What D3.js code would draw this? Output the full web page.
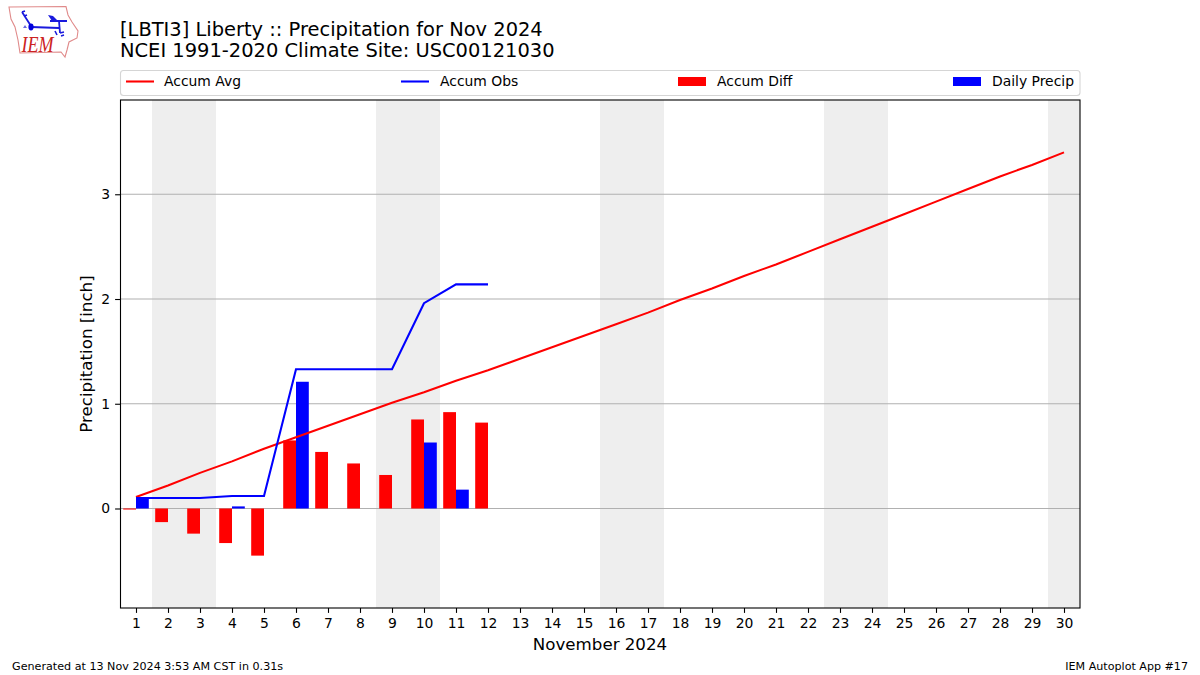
<!DOCTYPE html>
<html>
<head>
<meta charset="utf-8">
<script src="https://cdn.jsdelivr.net/npm/d3@7"></script>
<style>
body { margin: 0; background: #fff; }
svg { display: block; }
text { font-family: "DejaVu Sans", sans-serif; fill: #000; }
</style>
</head>
<body>
<svg width="1200" height="675"></svg>
<script>
var days = d3.range(1, 31);
var accumAvg = [0.11, 0.22, 0.34, 0.45, 0.57, 0.68, 0.79, 0.90, 1.01, 1.11, 1.22, 1.32, 1.43, 1.54, 1.65,
	1.76, 1.87, 1.99, 2.10, 2.22, 2.33, 2.45, 2.57, 2.69, 2.81, 2.93, 3.05, 3.17, 3.28, 3.40];
var accumObs = [0.10, 0.10, 0.10, 0.12, 0.12, 1.33, 1.33, 1.33, 1.33, 1.96, 2.14, 2.14];
var accumDiff = [-0.01, -0.13, -0.24, -0.33, -0.45, 0.65, 0.54, 0.43, 0.32, 0.85, 0.92, 0.82];
var dailyPrecip = [0.10, 0, 0, 0.02, 0, 1.21, 0, 0, 0, 0.63, 0.18, 0];
var weekends = [[1.5, 3.5], [8.5, 10.5], [15.5, 17.5], [22.5, 24.5], [29.5, 30.5]];
var yTicks = [0, 1, 2, 3];

var svg = d3.select("svg");
var left = 120, right = 1080, top_ = 100, bottom = 608;

var x = d3.scaleLinear().domain([0.5, 30.5]).range([left, right]);
var y = d3.scaleLinear().domain([-0.95, 3.9]).range([bottom, top_]);
var barW = x(1.4) - x(1);

// weekend shading
svg.selectAll(".span")
	.data(weekends)
	.enter().append("rect")
	.attr("class", "span")
	.attr("x", function(d) { return x(d[0]); })
	.attr("width", function(d) { return x(d[1]) - x(d[0]); })
	.attr("y", top_)
	.attr("height", bottom - top_)
	.attr("fill", "#eeeeee");

// grid
svg.selectAll(".grid")
	.data(yTicks)
	.enter().append("line")
	.attr("class", "grid")
	.attr("x1", left)
	.attr("x2", right)
	.attr("y1", function(d) { return y(d); })
	.attr("y2", function(d) { return y(d); })
	.attr("stroke", "#b0b0b0")
	.attr("stroke-width", 1.1);

// bars, diff sits left of the day and daily right of it
svg.selectAll(".diff")
	.data(accumDiff)
	.enter().append("rect")
	.attr("class", "diff")
	.attr("x", function(d, i) { return x(days[i]) - barW; })
	.attr("width", barW)
	.attr("y", function(d) { return y(Math.max(d, 0)); })
	.attr("height", function(d) { return Math.abs(y(d) - y(0)); })
	.attr("fill", "#ff0000");

svg.selectAll(".daily")
	.data(dailyPrecip)
	.enter().append("rect")
	.attr("class", "daily")
	.attr("x", function(d, i) { return x(days[i]); })
	.attr("width", barW)
	.attr("y", function(d) { return y(d); })
	.attr("height", function(d) { return y(0) - y(d); })
	.attr("fill", "#0000ff");

var line = d3.line()
	.x(function(d, i) { return x(days[i]); })
	.y(function(d) { return y(d); });

svg.append("path").attr("d", line(accumAvg))
	.attr("fill", "none").attr("stroke", "#ff0000").attr("stroke-width", 2.08);
svg.append("path").attr("d", line(accumObs))
	.attr("fill", "none").attr("stroke", "#0000ff").attr("stroke-width", 2.08);

// axes
var xAxis = svg.append("g")
	.attr("transform", "translate(0," + bottom + ")")
	.call(d3.axisBottom(x).tickValues(days).tickFormat(d3.format("d")).tickSizeInner(4.9).tickSizeOuter(0).tickPadding(5.5));
var yAxis = svg.append("g")
	.attr("transform", "translate(" + left + ",0)")
	.call(d3.axisLeft(y).tickValues(yTicks).tickFormat(d3.format("d")).tickSizeInner(4.9).tickSizeOuter(0).tickPadding(5));
svg.selectAll(".tick text").style("font-family", '"DejaVu Sans"').style("font-size", "13.9px").attr("fill", "#000");
svg.selectAll(".tick line").attr("stroke", "#000").attr("stroke-width", 1.1);
xAxis.select(".domain").remove();
yAxis.select(".domain").remove();

svg.append("rect")
	.attr("x", left + 0.5).attr("y", top_)
	.attr("width", right - left - 0.5).attr("height", bottom - top_)
	.attr("fill", "none").attr("stroke", "#000").attr("stroke-width", 1.1);

// axis labels
svg.append("text").attr("x", 600).attr("y", 650)
	.attr("text-anchor", "middle").style("font-size", "16.67px").text("November 2024");
svg.append("text").attr("transform", "translate(92,354) rotate(-90)")
	.attr("text-anchor", "middle").style("font-size", "16.67px").text("Precipitation [inch]");

// titles
svg.append("text").attr("x", 120).attr("y", 35.5).style("font-size", "19.46px")
	.text("[LBTI3] Liberty :: Precipitation for Nov 2024");
svg.append("text").attr("x", 120).attr("y", 57).style("font-size", "19.46px")
	.text("NCEI 1991-2020 Climate Site: USC00121030");

// legend
svg.append("rect").attr("x", 120.5).attr("y", 70.5).attr("width", 959.5).attr("height", 25)
	.attr("rx", 3).attr("fill", "#fff").attr("stroke", "#d5d5d5").attr("stroke-width", 1.1);

var legendNames = ["Accum Avg", "Accum Obs", "Accum Diff", "Daily Precip"];
var legendColors = ["#ff0000", "#0000ff", "#ff0000", "#0000ff"];
var legendX = [126, 401, 678, 953];
legendNames.forEach(function(name, i) {
	if (i < 2) {
		svg.append("line").attr("x1", legendX[i]).attr("x2", legendX[i] + 28)
			.attr("y1", 81.5).attr("y2", 81.5)
			.attr("stroke", legendColors[i]).attr("stroke-width", 2.08);
	} else {
		svg.append("rect").attr("x", legendX[i]).attr("y", 77).attr("width", 28).attr("height", 9)
			.attr("fill", legendColors[i]);
	}
	svg.append("text").attr("x", legendX[i] + (i == 0 ? 38 : 39)).attr("y", 86)
		.style("font-size", "13.9px").text(name);
});

// footer
svg.append("text").attr("x", 12).attr("y", 670).style("font-size", "11.15px")
	.text("Generated at 13 Nov 2024 3:53 AM CST in 0.31s");
svg.append("text").attr("x", 1188).attr("y", 670).attr("text-anchor", "end").style("font-size", "11.12px")
	.text("IEM Autoplot App #17");

// IEM logo
var logo = svg.append("g");
logo.append("path")
	.attr("d", "M9 7 L66 6.5 L68 15 L72 22 L78 31 L77 38 L69 42 L67 50 L65 57 L61 52 L20 53 L18 40 L15 27 L11 19 Z")
	.attr("fill", "none").attr("stroke", "#e08a8a").attr("stroke-width", 1.1);
logo.append("path")
	.attr("d", "M31 27 L59 28 M59 21 L60 33 M50 21 L67 21 M22 12 L31 26 M22 12 L25 11 M24 16 L27 15")
	.attr("fill", "none").attr("stroke", "#1a1add").attr("stroke-width", 1.8);
logo.append("path").attr("d", "M48 15 L53 16 L58 21 L52 21 Z").attr("fill", "#1a1add");
logo.append("path").attr("d", "M55 31 L57 35 M60 33 L64 32 M61 36 L64 35").attr("stroke", "#1a1add").attr("stroke-width", 1.6);
logo.append("path").attr("d", "M23 28 L25 25 L27 28 Z").attr("fill", "#6a6ae0");
logo.append("ellipse").attr("cx", 31).attr("cy", 27).attr("rx", 2.6).attr("ry", 3.4).attr("fill", "#0000dd");
logo.append("text").attr("transform", "translate(21.5,52) scale(0.86,1.05)")
	.style("font-family", '"Liberation Serif"').style("font-style", "italic").style("font-size", "21px")
	.style("fill", "#cc2222").text("IEM");
</script>
</body>
</html>
